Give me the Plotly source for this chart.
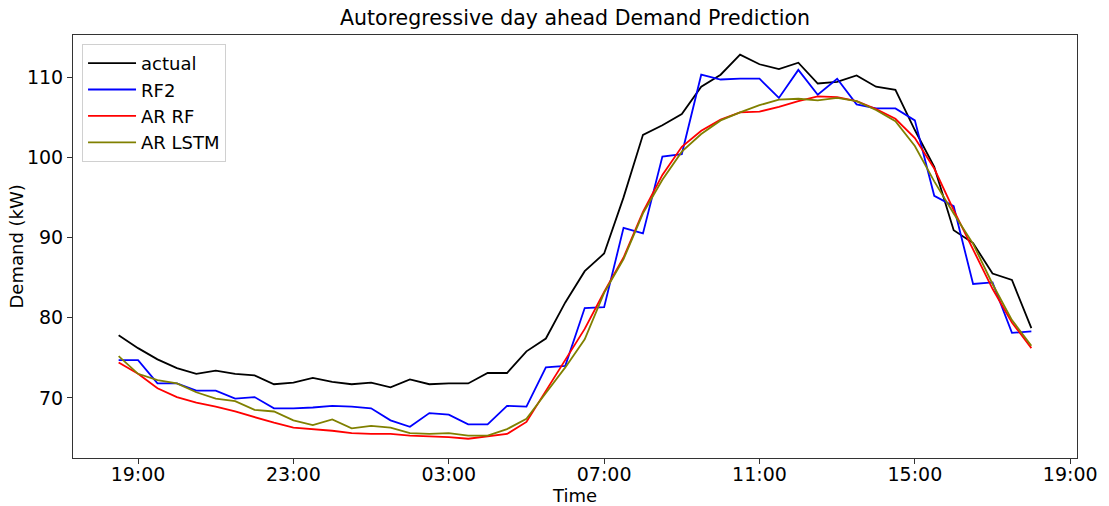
import pandas as pd
import plotly.graph_objects as go

times = pd.date_range("2020-01-01 18:30", periods=48, freq="30min")

actual = [77.8, 76.2, 74.8, 73.7, 73.0, 73.4, 73.0, 72.8, 71.7, 71.9, 72.5, 72.0,
          71.7, 71.9, 71.3, 72.3, 71.7, 71.8, 71.8, 73.1, 73.1, 75.8, 77.4, 81.9,
          85.8, 88.0, 95.0, 102.8, 104.0, 105.4, 108.8, 110.3, 112.8, 111.6, 111.0, 111.8,
          109.2, 109.4, 110.2, 108.8, 108.4, 103.4, 98.8, 90.9, 89.3, 85.5, 84.7, 78.7]

rf2 = [74.7, 74.7, 71.8, 71.8, 70.9, 70.9, 69.9, 70.1, 68.7, 68.7, 68.8, 69.0,
       68.9, 68.7, 67.2, 66.4, 68.1, 67.9, 66.7, 66.7, 69.0, 68.9, 73.8, 74.0,
       81.2, 81.3, 91.2, 90.5, 100.1, 100.4, 110.3, 109.7, 109.8, 109.8, 107.4, 110.9,
       107.8, 109.8, 106.6, 106.1, 106.1, 104.6, 95.2, 93.9, 84.2, 84.4, 78.1, 78.3]

ar_rf = [74.4, 73.0, 71.2, 70.1, 69.4, 68.9, 68.3, 67.6, 66.9, 66.3, 66.1, 65.9,
         65.6, 65.5, 65.5, 65.3, 65.2, 65.1, 64.9, 65.2, 65.5, 67.0, 70.9, 74.7,
         78.6, 83.2, 87.5, 93.2, 97.8, 101.3, 103.3, 104.7, 105.6, 105.7, 106.3, 107.0,
         107.6, 107.5, 107.0, 106.0, 104.8, 102.4, 98.6, 93.4, 88.5, 83.6, 79.4, 76.2]

ar_lstm = [75.2, 73.0, 72.2, 71.8, 70.7, 69.9, 69.6, 68.5, 68.3, 67.2, 66.6, 67.3,
           66.2, 66.5, 66.3, 65.6, 65.5, 65.6, 65.3, 65.3, 66.1, 67.4, 70.6, 73.8,
           77.3, 83.1, 87.3, 93.0, 97.2, 100.7, 102.9, 104.6, 105.6, 106.5, 107.2, 107.3,
           107.1, 107.4, 107.0, 105.9, 104.5, 101.4, 97.0, 93.0, 89.2, 84.2, 79.7, 76.5]

series = [("actual", actual, "#000000"), ("RF2", rf2, "#0000ff"),
          ("AR RF", ar_rf, "#ff0000"), ("AR LSTM", ar_lstm, "#808000")]

tick_vals = pd.date_range("2020-01-01 19:00", periods=7, freq="4h")
tick_text = [t.strftime("%H:%M") for t in tick_vals]
y_ticks = [70, 80, 90, 100, 110]

FONT = "DejaVu Sans"
fig = go.Figure()
for name, vals, col in series:
    fig.add_trace(go.Scatter(x=times, y=vals, mode="lines", name=name,
                             line=dict(color=col, width=1.8)))

span = times[-1] - times[0]
fig.update_layout(
    width=1109, height=506,
    margin=dict(l=73, r=32, t=35, b=48),
    paper_bgcolor="white", plot_bgcolor="white",
    font=dict(family=FONT, size=18, color="black"),
    title=dict(text="Autoregressive day ahead Demand Prediction", x=0.5 + (73 - 32) / 2 / 1109,
               xanchor="center", y=1 - 18 / 506, yanchor="middle",
               font=dict(size=20.5, color="black")),
    showlegend=True,
    legend=dict(x=0.009, y=0.979, xanchor="left", yanchor="top",
                bordercolor="#d0d0d0", borderwidth=1, bgcolor="rgba(255,255,255,0.8)",
                font=dict(size=18, color="black"), tracegroupgap=0, itemwidth=48),
    annotations=[dict(text="Demand (kW)", textangle=-90, xref="paper", yref="paper",
                      x=-(73 - 16) / 1004, y=0.5, xanchor="center", yanchor="middle",
                      showarrow=False, font=dict(size=18, color="black"))],
)
fig.update_xaxes(range=[times[0] - span * 0.05, times[-1] + span * 0.05],
                 tickvals=tick_vals, ticktext=tick_text, tickfont=dict(size=19),
                 automargin=False, ticklabelstandoff=-6,
                 showgrid=False, zeroline=False, showline=True, linecolor="#333333", linewidth=1,
                 mirror=True, ticks="outside", ticklen=5, tickcolor="#333333",
                 title=dict(text="Time", standoff=4, font=dict(size=18)))
fig.update_yaxes(range=[62.5, 115.25], tickvals=y_ticks, tickfont=dict(size=19),
                 automargin=False,
                 showgrid=False, zeroline=False, showline=True, linecolor="#333333", linewidth=1,
                 mirror=True, ticks="outside", ticklen=5, tickcolor="#333333")
fig.write_html("out.html")
